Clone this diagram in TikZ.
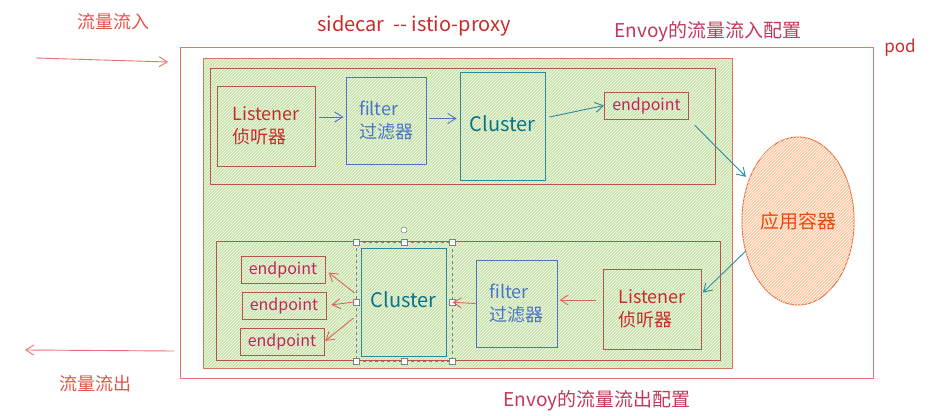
\documentclass[tikz,border=0pt]{standalone}
\usepackage{fontspec}
\setmainfont{Noto Sans CJK SC}
\usetikzlibrary{patterns,shapes.geometric,arrows.meta}
\definecolor{podred}{HTML}{E8736C}
\definecolor{sidered}{HTML}{D9775C}
\definecolor{boxred}{HTML}{B85450}
\definecolor{listred}{HTML}{C92A2A}
\definecolor{filblue}{HTML}{4A74C9}
\definecolor{clutext}{HTML}{0B7285}
\definecolor{cluedge}{HTML}{2B8A9E}
\definecolor{epred}{HTML}{C2255C}
\definecolor{envred}{HTML}{C2385A}
\definecolor{inred}{HTML}{E5534B}
\definecolor{greenfill}{HTML}{C6E2A6}
\definecolor{appfill}{HTML}{FFC9A3}
\definecolor{appedge}{HTML}{E8703A}
\definecolor{apptext}{HTML}{E8490C}
\definecolor{arrred}{HTML}{D9665C}

\begin{document}
\begin{tikzpicture}[x=10pt,y=-10pt,
  box/.style={draw, line width=1pt, align=left, inner sep=0pt, font=\fontsize{18}{23}\selectfont},
  clubox/.style={draw=cluedge, line width=1pt, text=clutext, inner sep=0pt, minimum width=85pt, minimum height=108pt, font=\fontsize{20}{24}\selectfont},
  epbox/.style={draw=boxred, line width=1pt, text=epred, inner sep=0pt, minimum width=84pt, minimum height=27pt, font=\fontsize{16}{18}\selectfont},
  lbl/.style={font=\fontsize{18}{21}\selectfont},
  arr/.style={-{Straight Barb[length=8pt,width=10pt]}, line width=0.9pt},
  hatch/.style={pattern=north east lines, pattern color=white}]
\useasboundingbox (0,0) rectangle (93.7,41.5);
\draw[podred, line width=0.9pt] (18.0,4.7) rectangle (87.3,37.8);
\fill[greenfill] (20.3,5.8) rectangle (73.2,36.8);
\fill[hatch] (20.3,5.8) rectangle (73.2,36.8);
\draw[sidered, line width=0.9pt] (20.3,5.8) rectangle (73.2,36.8);
\draw[boxred, line width=0.9pt] (21.0,6.8) rectangle (71.5,18.4);
\draw[boxred, line width=0.9pt] (21.6,24.1) rectangle (72.0,36.0);

\node[lbl, text=inred] (inlbl) at (11.3,2.2) {流量流入};
\node[lbl, text=listred, font=\fontsize{20}{24}\selectfont] (title) at (41.4,2.6) {sidecar\ \ {-}{-} istio{-}proxy};
\node[lbl, text=envred, font=\fontsize{19}{22}\selectfont] (inconf) at (70.8,3.2) {Envoy的流量流入配置};
\node[lbl, text=listred, font=\fontsize{17}{20}\selectfont] (podlbl) at (90.0,4.8) {pod};
\node[lbl, text=inred] (outlbl) at (9.5,38.4) {流量流出};
\node[lbl, text=envred, font=\fontsize{19}{22}\selectfont] (outconf) at (59.7,40.1) {Envoy的流量流出配置};

\node[box, draw=boxred, text=listred, minimum width=98pt, minimum height=80pt] (lis1) at (26.6,12.6) {Listener\\侦听器};
\node[box, draw=filblue, text=filblue, minimum width=80pt, minimum height=87pt] (fil1) at (38.6,12.05) {filter\\过滤器};
\node[clubox] (clu1) at (50.25,12.6) {\raisebox{5pt}{Cluster}};
\node[epbox] (ep1) at (64.65,10.55) {endpoint};
\node[ellipse, draw=appedge, line width=1pt, fill=appfill, postaction={hatch}, inner sep=0pt,
  minimum width=112pt, minimum height=168pt, text=apptext, font=\fontsize{19}{22}\selectfont] (app) at (79.8,22.1) {应用容器};

\node[box, draw=boxred, text=listred, minimum width=98pt, minimum height=80pt] (lis2) at (65.2,30.9) {Listener\\侦听器};
\node[box, draw=filblue, text=filblue, minimum width=81pt, minimum height=87pt] (fil2) at (51.65,30.35) {filter\\过滤器};
\node[clubox] (clu2) at (40.35,30.2) {\raisebox{5pt}{Cluster}};
\node[epbox] (ep2a) at (28.3,27.0) {endpoint};
\node[epbox] (ep2b) at (28.4,30.55) {endpoint};
\node[epbox] (ep2c) at (28.2,34.15) {endpoint};

\draw[gray, dashed, line width=0.6pt] (35.6,24.2) rectangle (45.2,36.1);
\foreach \x in {35.6,40.4,45.2}
  \foreach \y in {24.2,36.1}
    \draw[gray, fill=white, line width=0.5pt] (\x,\y) ++(-3pt,-3pt) rectangle ++(6pt,6pt);
\foreach \x in {35.6,45.2}
  \draw[gray, fill=white, line width=0.5pt] (\x,30.2) ++(-3pt,-3pt) rectangle ++(6pt,6pt);
\draw[gray, fill=white, line width=0.5pt] (40.4,23.0) circle (3pt);

\coordinate (inA) at (3.6,5.8);
\coordinate (inB) at (16.8,6.2);
\coordinate (outA) at (17.4,35.1);
\coordinate (outB) at (2.5,35.0);
\draw[arr, podred] (inA) -- (inB);
\draw[arr, podred] (outA) -- (outB);

\draw[arr, filblue, shorten <=3pt, shorten >=2pt] ([yshift=9pt]lis1.east) -- ([yshift=9pt]lis1.east -| fil1.west);
\draw[arr, filblue, shorten <=2pt, shorten >=3pt] ([yshift=2pt]fil1.east) -- ([yshift=2pt]fil1.east -| clu1.west);
\draw[arr, cluedge] ([xshift=4pt,yshift=9pt]clu1.east) -- (ep1.west);
\draw[arr, cluedge, shorten <=8pt, shorten >=4pt] (ep1.south east) -- (app.140);
\draw[arr, cluedge, shorten >=2pt] (app.210) -- ([yshift=15pt]lis2.east);
\draw[arr, arrred, shorten <=7pt, shorten >=2pt] ([yshift=9pt]lis2.west) -- ([yshift=9pt]lis2.west -| fil2.east);
\draw[arr, arrred, shorten >=6pt] (fil2.west) -- (clu2.east);
\draw[arr, arrred, shorten >=4pt] ([xshift=-6pt,yshift=9pt]clu2.west) -- (ep2a.east);
\draw[arr, arrred, shorten >=5pt] ([xshift=-6pt]clu2.west) -- (ep2b.east);
\draw[arr, arrred, shorten >=1pt] ([xshift=-7pt,yshift=-16pt]clu2.west) -- (ep2c.east);
\end{tikzpicture}
\end{document}
